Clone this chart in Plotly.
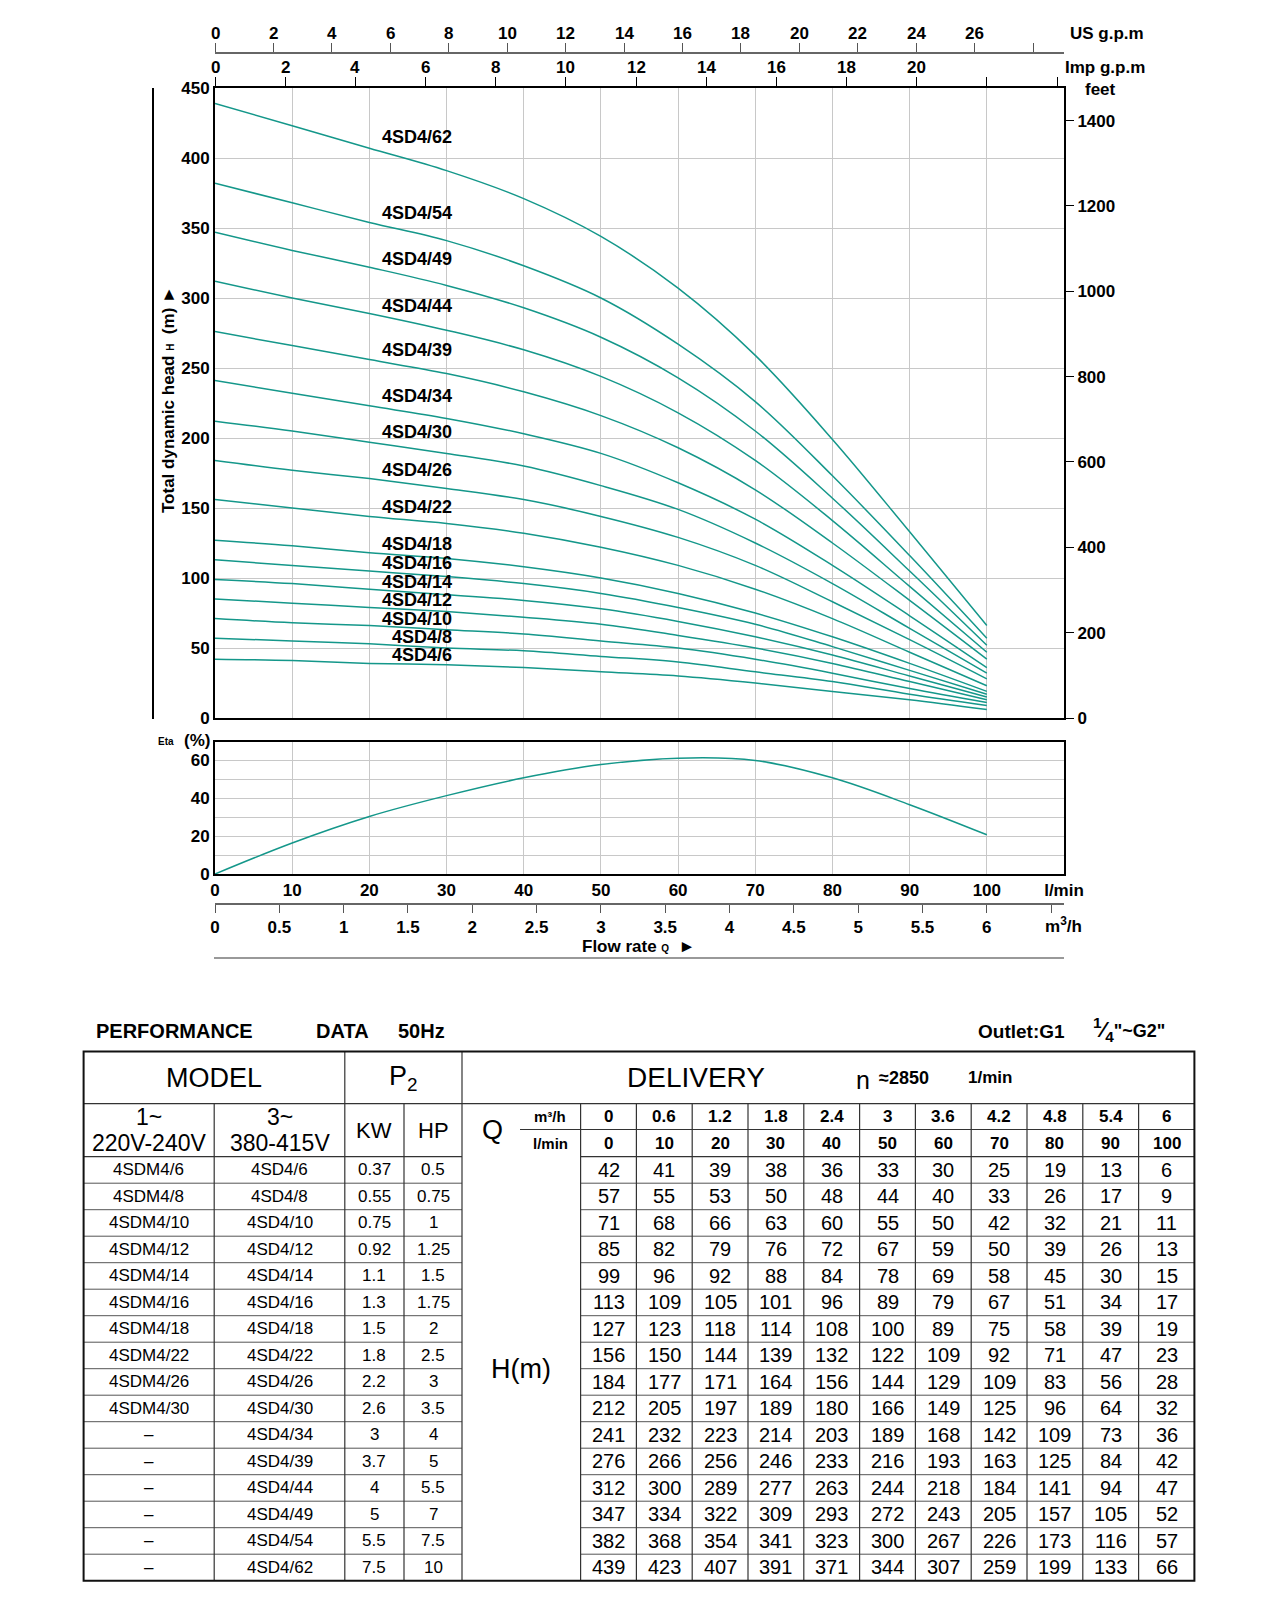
import plotly.graph_objects as go

W, H = 1273, 1600
FONT = "Liberation Sans, Arial, sans-serif"
TEAL = "#14978a"
GRID = "#c8c8c8"

# ---------------- data ----------------
flow_lmin = [0, 10, 20, 30, 40, 50, 60, 70, 80, 90, 100]
flow_m3h_labels = ["0", "0.6", "1.2", "1.8", "2.4", "3", "3.6", "4.2", "4.8", "5.4", "6"]
flow_lmin_labels = ["0", "10", "20", "30", "40", "50", "60", "70", "80", "90", "100"]

models_1ph = ["4SDM4/6", "4SDM4/8", "4SDM4/10", "4SDM4/12", "4SDM4/14", "4SDM4/16",
              "4SDM4/18", "4SDM4/22", "4SDM4/26", "4SDM4/30", "–", "–", "–", "–", "–", "–"]
models_3ph = ["4SD4/6", "4SD4/8", "4SD4/10", "4SD4/12", "4SD4/14", "4SD4/16",
              "4SD4/18", "4SD4/22", "4SD4/26", "4SD4/30", "4SD4/34", "4SD4/39",
              "4SD4/44", "4SD4/49", "4SD4/54", "4SD4/62"]
kw = ["0.37", "0.55", "0.75", "0.92", "1.1", "1.3", "1.5", "1.8", "2.2", "2.6",
      "3", "3.7", "4", "5", "5.5", "7.5"]
hp = ["0.5", "0.75", "1", "1.25", "1.5", "1.75", "2", "2.5", "3", "3.5",
      "4", "5", "5.5", "7", "7.5", "10"]

h_4sd4_6 = [42, 41, 39, 38, 36, 33, 30, 25, 19, 13, 6]
h_4sd4_8 = [57, 55, 53, 50, 48, 44, 40, 33, 26, 17, 9]
h_4sd4_10 = [71, 68, 66, 63, 60, 55, 50, 42, 32, 21, 11]
h_4sd4_12 = [85, 82, 79, 76, 72, 67, 59, 50, 39, 26, 13]
h_4sd4_14 = [99, 96, 92, 88, 84, 78, 69, 58, 45, 30, 15]
h_4sd4_16 = [113, 109, 105, 101, 96, 89, 79, 67, 51, 34, 17]
h_4sd4_18 = [127, 123, 118, 114, 108, 100, 89, 75, 58, 39, 19]
h_4sd4_22 = [156, 150, 144, 139, 132, 122, 109, 92, 71, 47, 23]
h_4sd4_26 = [184, 177, 171, 164, 156, 144, 129, 109, 83, 56, 28]
h_4sd4_30 = [212, 205, 197, 189, 180, 166, 149, 125, 96, 64, 32]
h_4sd4_34 = [241, 232, 223, 214, 203, 189, 168, 142, 109, 73, 36]
h_4sd4_39 = [276, 266, 256, 246, 233, 216, 193, 163, 125, 84, 42]
h_4sd4_44 = [312, 300, 289, 277, 263, 244, 218, 184, 141, 94, 47]
h_4sd4_49 = [347, 334, 322, 309, 293, 272, 243, 205, 157, 105, 52]
h_4sd4_54 = [382, 368, 354, 341, 323, 300, 267, 226, 173, 116, 57]
h_4sd4_62 = [439, 423, 407, 391, 371, 344, 307, 259, 199, 133, 66]

heads = [h_4sd4_6, h_4sd4_8, h_4sd4_10, h_4sd4_12, h_4sd4_14, h_4sd4_16, h_4sd4_18,
         h_4sd4_22, h_4sd4_26, h_4sd4_30, h_4sd4_34, h_4sd4_39, h_4sd4_44,
         h_4sd4_49, h_4sd4_54, h_4sd4_62]

# curve label heights (m) on the chart
label_y = [45, 58, 71, 84, 97, 110.5, 124.5, 150.5, 177, 204, 230, 263, 294, 328, 361, 415]

eta_lmin = [0, 10, 20, 30, 40, 50, 60, 70, 80, 90, 100]
eta_pct = [0, 16.4, 30.4, 41.4, 50.8, 57.8, 61.2, 60.0, 50.8, 36.6, 20.7]

us_ticks = list(range(0, 30, 2))
us_labels = [str(v) for v in range(0, 28, 2)]
imp_ticks = list(range(0, 26, 2))
imp_labels = [str(v) for v in range(0, 22, 2)]
m3h_ticks = [i * 0.5 for i in range(14)]

# ---------------- helpers ----------------
def px(x):
    return x / W

def py(y):
    return 1 - y / H

shapes = []
annotations = []

def line(x0, y0, x1, y1, color="#222", w=1):
    shapes.append(dict(type="line", xref="paper", yref="paper",
                       x0=px(x0), y0=py(y0), x1=px(x1), y1=py(y1),
                       line=dict(color=color, width=w)))

def txt(x, y, s, size, bold=False, xanchor="center", color="black", angle=0):
    annotations.append(dict(xref="paper", yref="paper", x=px(x), y=py(y), text=s,
                            showarrow=False, xanchor=xanchor, yanchor="middle",
                            textangle=angle,
                            font=dict(family=FONT, size=size, color=color,
                                      weight="bold" if bold else "normal")))

fig = go.Figure()

# ---------------- head curves ----------------
for name, h in zip(models_3ph, heads):
    fig.add_trace(go.Scatter(x=flow_lmin, y=h, mode="lines", name=name,
                             line=dict(color=TEAL, width=1.5, shape="spline", smoothing=1.0),
                             xaxis="x", yaxis="y", hoverinfo="skip"))
for name, ly in zip(models_3ph, label_y):
    annotations.append(dict(xref="x", yref="y", x=31, y=ly, text=name, showarrow=False,
                            xanchor="right", yanchor="middle",
                            font=dict(family=FONT, size=18, color="black", weight="bold")))

# dummy traces to activate secondary axes
fig.add_trace(go.Scatter(x=[None], y=[None], xaxis="x2", yaxis="y", showlegend=False))
fig.add_trace(go.Scatter(x=[None], y=[None], xaxis="x3", yaxis="y", showlegend=False))
fig.add_trace(go.Scatter(x=[None], y=[None], xaxis="x", yaxis="y2", showlegend=False))
fig.add_trace(go.Scatter(x=[None], y=[None], xaxis="x5", yaxis="y3", showlegend=False))

# ---------------- efficiency curve ----------------
fig.add_trace(go.Scatter(x=eta_lmin, y=eta_pct, mode="lines",
                         line=dict(color=TEAL, width=1.5, shape="spline", smoothing=1.0),
                         xaxis="x4", yaxis="y3", hoverinfo="skip"))

TF = dict(family=FONT, size=17, color="black", weight="bold")
main_dom_x = [px(215), px(1064)]
main_dom_y = [py(718), py(88)]
eta_dom_y = [py(874), py(741.5)]

fig.update_layout(
    width=W, height=H, margin=dict(l=0, r=0, t=0, b=0, pad=0, autoexpand=False),
    paper_bgcolor="white", plot_bgcolor="white", showlegend=False,
    xaxis=dict(domain=main_dom_x, anchor="y", range=[0, 110], tick0=0, dtick=10,
               showgrid=True, gridcolor=GRID, gridwidth=1, zeroline=False,
               showticklabels=False, ticks="", showline=True, linecolor="black",
               linewidth=2, mirror=True, automargin=False),
    yaxis=dict(domain=main_dom_y, anchor="x", range=[0, 450], tick0=0, dtick=50,
               showgrid=True, gridcolor=GRID, gridwidth=1, zeroline=False,
               ticks="", tickfont=TF, showline=True, linecolor="black",
               linewidth=2, mirror=True, automargin=False),
    yaxis2=dict(overlaying="y", side="right", anchor="x", range=[0, 450 * 3.28084],
                tickvals=list(range(0, 1600, 200)), ticks="outside", ticklen=9,
                tickcolor="black", showgrid=False, zeroline=False, showline=False,
                tickfont=TF, automargin=False),
    xaxis2=dict(overlaying="x", side="top", anchor="y", range=[0, 110 / 4.54609],
                tickvals=imp_ticks, showticklabels=False,
                ticks="outside", ticklen=10, tickcolor="black", showgrid=False,
                zeroline=False, showline=False, automargin=False),
    xaxis3=dict(overlaying="x", side="top", anchor="free", position=py(53),
                range=[0, 110 / 3.78541], tickvals=us_ticks, showticklabels=False,
                ticks="outside", ticklen=9, tickcolor="#555", showgrid=False,
                zeroline=False, showline=True, linecolor="#666", linewidth=1.5,
                automargin=False),
    xaxis4=dict(domain=main_dom_x, anchor="y3", range=[0, 110],
                tickvals=flow_lmin + [110], ticktext=flow_lmin_labels + ["l/min"],
                showgrid=True, gridcolor=GRID, zeroline=False, ticks="",
                tickfont=TF, showline=True, linecolor="black", linewidth=2, mirror=True,
                automargin=False),
    yaxis3=dict(domain=eta_dom_y, anchor="x4", range=[0, 70],
                tickvals=list(range(0, 80, 10)),
                ticktext=["0", "", "20", "", "40", "", "60", ""],
                showgrid=True, gridcolor=GRID, zeroline=False, ticks="",
                tickfont=TF, showline=True, linecolor="black", linewidth=2, mirror=True,
                automargin=False),
    xaxis5=dict(overlaying="x4", side="bottom", anchor="free", position=py(904),
                range=[0, 6.6], tickvals=m3h_ticks,
                ticktext=[("%g" % v) if v <= 6 else "" for v in m3h_ticks],
                ticks="outside", ticklen=8, tickcolor="#555", showgrid=False,
                zeroline=False, showline=True, linecolor="#666", linewidth=1.5,
                tickfont=TF, automargin=False),
)

# top axis tick labels, positioned through the axes' own scales
for v, s in zip(us_ticks, us_labels):
    annotations.append(dict(xref="x3", yref="paper", x=v, y=py(33), text=s, showarrow=False,
                            xanchor="center", yanchor="middle", font=TF))
for v, s in zip(imp_ticks, imp_labels):
    annotations.append(dict(xref="x2", yref="paper", x=v, y=py(68), text=s, showarrow=False,
                            xanchor="center", yanchor="middle", font=TF))

# ---------------- chart annotations ----------------
txt(1068, 33, "US g.p.m", 17, bold=True, xanchor="left")
txt(1105, 68, "Imp g.p.m", 17, bold=True)
txt(1100, 89, "feet", 17, bold=True)
txt(1063, 925, "m<sup>3</sup>/h", 17, bold=True)
txt(638, 946, "Flow rate <span style='font-size:10px'>Q</span>  ►", 17, bold=True)
txt(168, 400, "Total dynamic head <span style='font-size:10px'>H</span>  (m) ►", 17,
    bold=True, angle=-90)
txt(166, 741, "Eta", 10, bold=True)
txt(197, 740, "(%)", 17, bold=True)
line(153, 88, 153, 719, color="black", w=2)
line(214, 958, 1064, 958, color="#777", w=1.5)

# ---------------- table ----------------
c0, c1, c2, c3, c4, cq, c5 = 83.6, 214.2, 344.8, 404.0, 462.0, 520.0, 580.6
cw = 55.8
c_end = c5 + 11 * cw
r0, r1, rm, r2 = 1051.6, 1103.6, 1129.5, 1156.7
rh = 26.5
r_end = r2 + 16 * rh

txt(94, 1031, "PERFORMANCE", 20, bold=True, xanchor="left")
txt(314, 1031, "DATA", 20, bold=True, xanchor="left")
txt(396, 1031, "50Hz", 20, bold=True, xanchor="left")
txt(976, 1031, "Outlet:G1", 19, bold=True, xanchor="left")
txt(1091, 1029, "<span style='font-size:22px'><sup>1</sup>⁄<sub>4</sub></span>\"~G2\"", 18,
    bold=True, xanchor="left")

LC = "#333"
# inner horizontal lines
line(c0, r1, c_end, r1, LC, 1.2)
line(cq, rm, c_end, rm, LC, 1.2)
line(c0, r2, c4, r2, LC, 1.2)
line(c5, r2, c_end, r2, LC, 1.2)
for i in range(1, 16):
    yy = r2 + i * rh
    line(c0, yy, c4, yy, "#555", 1)
    line(c5, yy, c_end, yy, "#555", 1)
# vertical lines
line(c1, r1, c1, r_end, LC, 1.2)
line(c2, r0, c2, r_end, LC, 1.2)
line(c3, r1, c3, r_end, LC, 1.2)
line(c4, r0, c4, r_end, LC, 1.2)
for k in range(0, 11):
    xx = c5 + k * cw
    line(xx, r1, xx, r_end, LC, 1.2)
# outer border
shapes.append(dict(type="rect", xref="paper", yref="paper", x0=px(c0), x1=px(c_end),
                   y0=py(r_end), y1=py(r0), line=dict(color="#111", width=2)))

# header texts
hy = (r0 + r1) / 2
txt((c0 + c2) / 2, hy, "MODEL", 27)
txt((c2 + c4) / 2, hy, "P<sub>2</sub>", 27)
txt(696, hy, "DELIVERY", 28)
txt(863, hy + 2, "n", 25)
txt(904, hy, "≈2850", 18, bold=True)
txt(990, hy, "1/min", 17, bold=True)

sy1, sy2 = 1117, 1143
txt((c0 + c1) / 2, sy1, "1~", 23)
txt((c0 + c1) / 2, sy2, "220V-240V", 23)
txt((c1 + c2) / 2, sy1, "3~", 23)
txt((c1 + c2) / 2, sy2, "380-415V", 23)
txt((c2 + c3) / 2, (r1 + r2) / 2, "KW", 22)
txt((c3 + c4) / 2, (r1 + r2) / 2, "HP", 22)
txt(492, (r1 + r2) / 2, "Q", 27)
txt(550, (r1 + rm) / 2, "m³/h", 15, bold=True)
txt(550, (rm + r2) / 2, "l/min", 15, bold=True)
for k in range(11):
    xc = c5 + (k + 0.5) * cw
    txt(xc, (r1 + rm) / 2, flow_m3h_labels[k], 17, bold=True)
    txt(xc, (rm + r2) / 2, flow_lmin_labels[k], 17, bold=True)

txt((c4 + c5) / 2, (r2 + r_end) / 2, "H(m)", 27)

for i in range(16):
    yc = r2 + (i + 0.5) * rh
    txt((c0 + c1) / 2, yc, models_1ph[i], 17)
    txt((c1 + c2) / 2, yc, models_3ph[i], 17)
    txt((c2 + c3) / 2, yc, kw[i], 17)
    txt((c3 + c4) / 2, yc, hp[i], 17)
    for k in range(11):
        txt(c5 + (k + 0.5) * cw, yc, str(heads[i][k]), 20)

fig.update_layout(shapes=shapes, annotations=annotations)
fig.write_html("out.html", config={"displayModeBar": False},
               post_script="document.body.style.margin='0';document.body.style.padding='0';"
                           "document.body.style.overflow='hidden';")
